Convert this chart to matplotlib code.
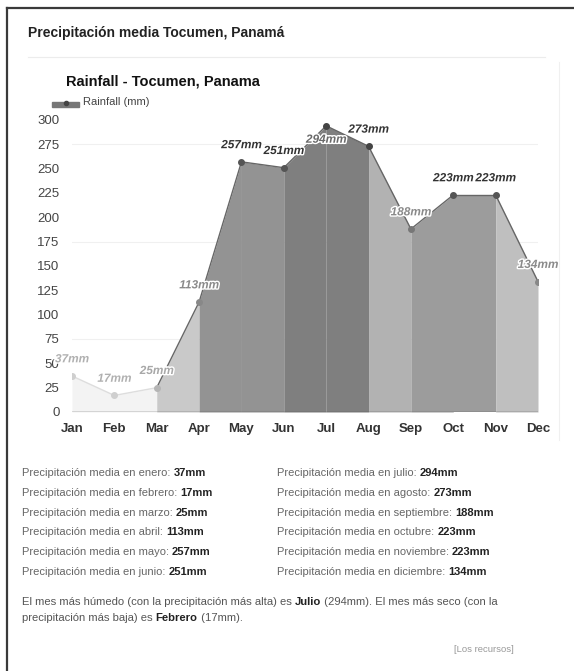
import numpy as np
import matplotlib
matplotlib.use('Agg')
import matplotlib.pyplot as plt
from matplotlib import patheffects as pe

plt.rcParams['font.family'] = ['Liberation Sans', 'DejaVu Sans']

# data
months = ['Jan', 'Feb', 'Mar', 'Apr', 'May', 'Jun', 'Jul', 'Aug', 'Sep', 'Oct', 'Nov', 'Dec']
rain = [37, 17, 25, 113, 257, 251, 294, 273, 188, 223, 223, 134]
yticks = [0, 25, 50, 75, 100, 125, 150, 175, 200, 225, 250, 275, 300]
meses = ['enero', 'febrero', 'marzo', 'abril', 'mayo', 'junio',
         'julio', 'agosto', 'septiembre', 'octubre', 'noviembre', 'diciembre']

# shade of each month-to-month segment (grey scan of the original)
seg_col = ['#f3f3f3', '#f3f3f3', '#c9c9c9', '#939393', '#939393', '#7f7f7f',
           '#7f7f7f', '#b2b2b2', '#9c9c9c', '#9c9c9c', '#bfbfbf']
lab_col = ['#b0b0b0', '#b0b0b0', '#a8a8a8', '#8a8a8a', '#333333', '#333333',
           '#6a6a6a', '#333333', '#8a8a8a', '#333333', '#333333', '#8a8a8a']
dot_col = ['#cfcfcf', '#cfcfcf', '#b5b5b5', '#888888', '#555555', '#555555',
           '#444444', '#444444', '#777777', '#555555', '#555555', '#888888']

W, H = 574, 671
fig = plt.figure(figsize=(W/100, H/100), dpi=100)
fig.patch.set_facecolor('white')

def fx(px): return px / W
def fy(py): return 1 - py / H

# outer box + card
fig.add_artist(plt.Line2D([fx(7), fx(7)], [fy(8), fy(671)], color='#3a3a3a', lw=1.6))
fig.add_artist(plt.Line2D([fx(7), fx(574)], [fy(8), fy(8)], color='#3a3a3a', lw=1.6))
fig.add_artist(plt.Line2D([fx(28), fx(545)], [fy(57), fy(57)], color='#ececec', lw=0.8))
fig.add_artist(plt.Line2D([fx(559), fx(559)], [fy(62), fy(440)], color='#f0f0f0', lw=0.8))

fig.text(fx(28), fy(33), 'Precipitación media Tocumen, Panamá', fontsize=10,
         fontweight='bold', color='#222222', va='center')
fig.text(fx(66), fy(82), 'Rainfall - Tocumen, Panama', fontsize=10.5,
         fontweight='bold', color='#111111', va='center')

# legend swatch
fig.add_artist(plt.Rectangle((fx(52), fy(107)), fx(27), 5/H, color='#777777'))
fig.add_artist(plt.Line2D([fx(66)], [fy(103)], marker='o', ms=3, color='#444444'))
fig.text(fx(83), fy(102), 'Rainfall (mm)', fontsize=8, color='#444444', va='center')

# chart axes: Jan at x=72, Dec at x=538; 0 at y=412, 300 at y=120
ax = fig.add_axes([fx(72), fy(412), fx(538 - 72), (412 - 120) / H])
x = np.arange(len(months))
for i in range(len(months) - 1):
    ax.fill_between(x[i:i+2], rain[i:i+2], 0, color=seg_col[i], lw=0, zorder=1)
for i in range(len(months) - 1):
    lc = '#dddddd' if i < 2 else '#666666'
    ax.plot(x[i:i+2], rain[i:i+2], color=lc, lw=1, zorder=2)
for i in range(len(months)):
    ax.plot(x[i], rain[i], 'o', ms=4, color=dot_col[i], zorder=3)
    # the top label would leave the chart, so it sits below its point
    dy = -10 if rain[i] == max(rain) else 12
    ax.annotate('%dmm' % rain[i], (x[i], rain[i]), xytext=(0, dy), textcoords='offset points',
                ha='center', va='center', fontsize=8.5, fontstyle='italic', fontweight='bold',
                color=lab_col[i], zorder=4,
                path_effects=[pe.withStroke(linewidth=2, foreground='white')])

for g in [75, 175, 275]:
    ax.axhline(g, color='#f0f0f0', lw=0.8, zorder=0)
ax.axhline(0, color='#555555', lw=1, zorder=5)

ax.set_xlim(0, 11)
ax.set_ylim(0, 300)
ax.set_xticks(x)
ax.set_xticklabels(months, fontweight='bold', fontsize=9.5, color='#333333')
ax.set_yticks(yticks)
ax.set_yticklabels([str(v) for v in yticks], fontsize=9.5, color='#444444')
ax.tick_params(length=0, axis='y', pad=9)
ax.tick_params(length=0, axis='x', pad=8)
for s in ax.spines.values():
    s.set_visible(False)
ax.patch.set_alpha(0)

# text below the chart
fig.canvas.draw()
r = fig.canvas.get_renderer()
row_y = [473, 493, 513, 532, 552, 572]
for i in range(12):
    col_x = 22 if i < 6 else 277
    yy = row_y[i % 6]
    t = fig.text(fx(col_x), fy(yy), 'Precipitación media en %s: ' % meses[i],
                 fontsize=8, color='#666666', va='center')
    x1 = t.get_window_extent(r).x1
    fig.text(x1 / W, fy(yy), '%dmm' % rain[i], fontsize=8, fontweight='bold',
             color='#222222', va='center')

wet = months.index('Jul')
dry = months.index('Feb')
p1 = [('El mes más húmedo (con la precipitación más alta) es ', 'normal'),
      ('Julio', 'bold'), (' (%dmm). El mes más seco (con la' % rain[wet], 'normal')]
p2 = [('precipitación más baja) es ', 'normal'), ('Febrero', 'bold'),
      (' (%dmm).' % rain[dry], 'normal')]
for parts, yy in [(p1, 602), (p2, 618)]:
    xx = 22
    for s, w in parts:
        t = fig.text(xx / W, fy(yy), s, fontsize=8.1, fontweight=w,
                     color='#222222' if w == 'bold' else '#555555', va='center')
        xx = t.get_window_extent(r).x1

fig.text(fx(514), fy(650), '[Los recursos]', fontsize=6.8, color='#999999',
         ha='right', va='center')

fig.savefig('out.png', dpi=100)
